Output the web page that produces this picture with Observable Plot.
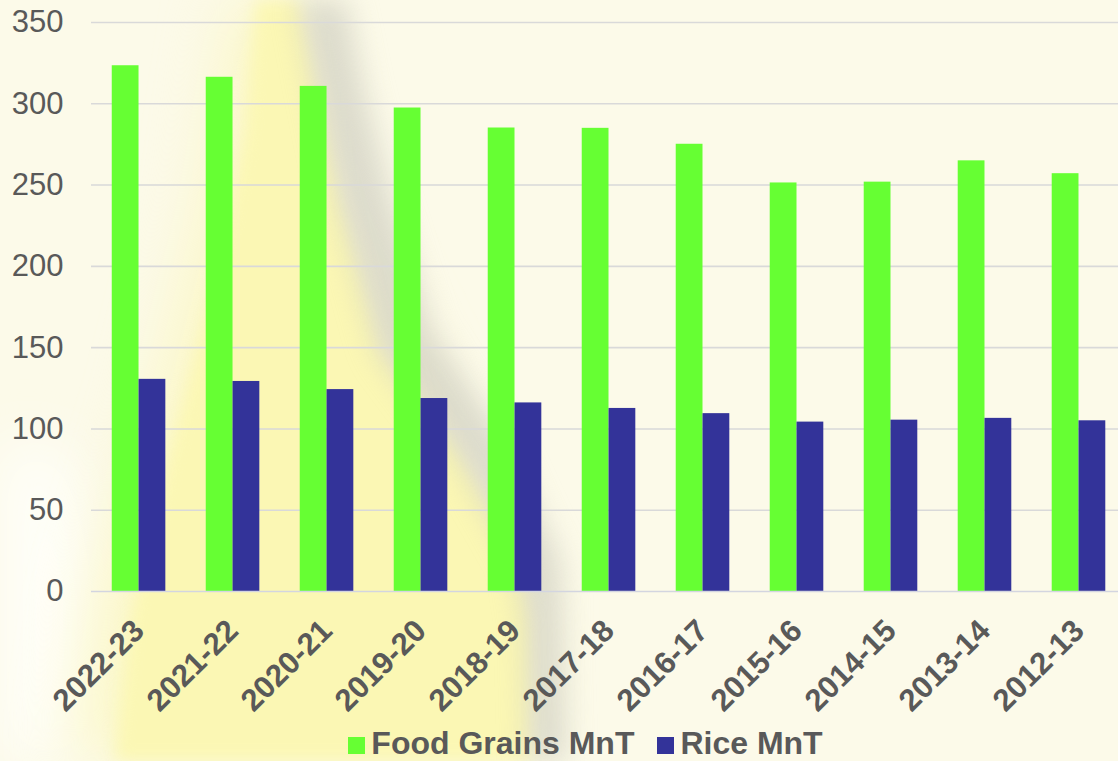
<!DOCTYPE html>
<html>
<head>
<meta charset="utf-8">
<script src="https://cdn.jsdelivr.net/npm/d3@7"></script>
<script src="https://cdn.jsdelivr.net/npm/@observablehq/plot@0.6"></script>
<style>
  html, body { margin: 0; padding: 0; }
  body {
    width: 1118px; height: 761px; overflow: hidden;
    font-family: "Liberation Sans", Arial, sans-serif;
    background-color: #fcfae9;
  }
  #wrap { position: relative; width: 1118px; height: 761px; overflow: hidden; }
  .deco { position: absolute; left: 0; top: 0; width: 1118px; height: 761px; }
  .b8 { filter: blur(8px); }
  .b14 { filter: blur(14px); }
  .b30 { filter: blur(30px); }
  #yellowWide {
    background: rgba(251,247,190,0.7);
    clip-path: polygon(235px -30px, 300px -30px, 340px 200px, 460px 450px, 530px 600px, 530px 800px, 60px 800px, 90px 600px, 150px 400px, 200px 200px);
  }
  #yellow {
    background: #fbf7b4;
    clip-path: polygon(258px -30px, 292px -30px, 315px 80px, 340px 200px, 380px 350px, 457px 450px, 520px 560px, 530px 620px, 530px 800px, 110px 800px, 130px 620px, 170px 450px, 210px 300px, 245px 130px);
  }
  #shade {
    background: rgba(200,200,190,0.6);
    clip-path: polygon(292px -30px, 340px -30px, 362px 80px, 392px 200px, 432px 330px, 505px 440px, 560px 560px, 568px 800px, 530px 800px, 525px 620px, 515px 560px, 455px 455px, 378px 352px, 338px 205px, 313px 82px);
  }
  #whitish {
    background: rgba(255,255,252,0.85);
    clip-path: polygon(-40px 430px, 70px 450px, 100px 580px, 95px 800px, -40px 800px);
  }
  #chart { position: absolute; left: 0; top: 0; }
  #legend {
    position: absolute; left: 0; top: 727px; width: 1118px;
    display: flex; justify-content: center; align-items: center; gap: 23px;
    font-size: 32px; font-weight: bold; color: #595959; line-height: 32px;
    padding-left: 53px; box-sizing: border-box;
  }
  .item { display: flex; align-items: center; gap: 6px; }
  .sw { width: 17px; height: 17px; display: inline-block; margin-top: 5px; }
</style>
</head>
<body>
<div id="wrap">
  <div class="deco b30"><div class="deco" id="whitish"></div></div>
  <div class="deco b30"><div class="deco" id="yellowWide"></div></div>
  <div class="deco b8"><div class="deco" id="yellow"></div></div>
  <div class="deco b14"><div class="deco" id="shade"></div></div>
  <div id="chart"></div>
  <div id="legend"></div>
</div>
<script>
const years = ["2022-23","2021-22","2020-21","2019-20","2018-19","2017-18","2016-17","2015-16","2014-15","2013-14","2012-13"];
const foodGrains = [323.4, 316.3, 310.7, 297.4, 285.1, 284.9, 275.1, 251.3, 251.8, 264.9, 257.0];
const rice = [130.5, 129.2, 124.2, 118.7, 116.0, 112.6, 109.4, 104.2, 105.4, 106.5, 105.0];
const seriesNames = ["Food Grains MnT", "Rice MnT"];
const seriesColors = ["#66ff33", "#333399"];
const yTicks = [0, 50, 100, 150, 200, 250, 300, 350];

const foodData = years.map((y, i) => ({year: y, value: foodGrains[i]}));
const riceData = years.map((y, i) => ({year: y, value: rice[i]}));

const W = 1118, H = 722;
const half = 26.8;

const chart = Plot.plot({
  width: W,
  height: H,
  marginLeft: 91,
  marginRight: 0,
  marginTop: 22,
  marginBottom: 131,
  style: {background: "transparent", fontFamily: "'Liberation Sans', Arial, sans-serif", color: "#595959", overflow: "visible"},
  x: {domain: years, paddingInner: 0.43, paddingOuter: 0.178, align: 0.62, round: false, label: null},
  y: {domain: [0, 350], label: null},
  marks: [
    Plot.ruleY(yTicks.filter(d => d > 0), {stroke: "#d9d9d9", strokeWidth: 1.6}),
    Plot.barY(foodData, {x: "year", y: "value", fill: seriesColors[0], insetRight: half, insetLeft: 0}),
    Plot.barY(riceData, {x: "year", y: "value", fill: seriesColors[1], insetLeft: half, insetRight: 0}),
    Plot.ruleY([0], {stroke: "#d3d5e0", strokeWidth: 1.6}),
    Plot.axisY({ticks: yTicks, tickSize: 0, tickPadding: 28, fontSize: 31, fill: "#595959", label: null}),
    Plot.axisX({tickSize: 0, tickRotate: -45, tickPadding: 34, fontSize: 31, fontWeight: "bold", fill: "#595959", label: null, dx: 0})
  ]
});
document.getElementById("chart").appendChild(chart);

const legend = document.getElementById("legend");
seriesNames.forEach((name, i) => {
  const item = document.createElement("span");
  item.className = "item";
  const sw = document.createElement("span");
  sw.className = "sw";
  sw.style.background = seriesColors[i];
  const t = document.createElement("span");
  t.textContent = name;
  item.appendChild(sw); item.appendChild(t);
  legend.appendChild(item);
});
</script>
</body>
</html>
